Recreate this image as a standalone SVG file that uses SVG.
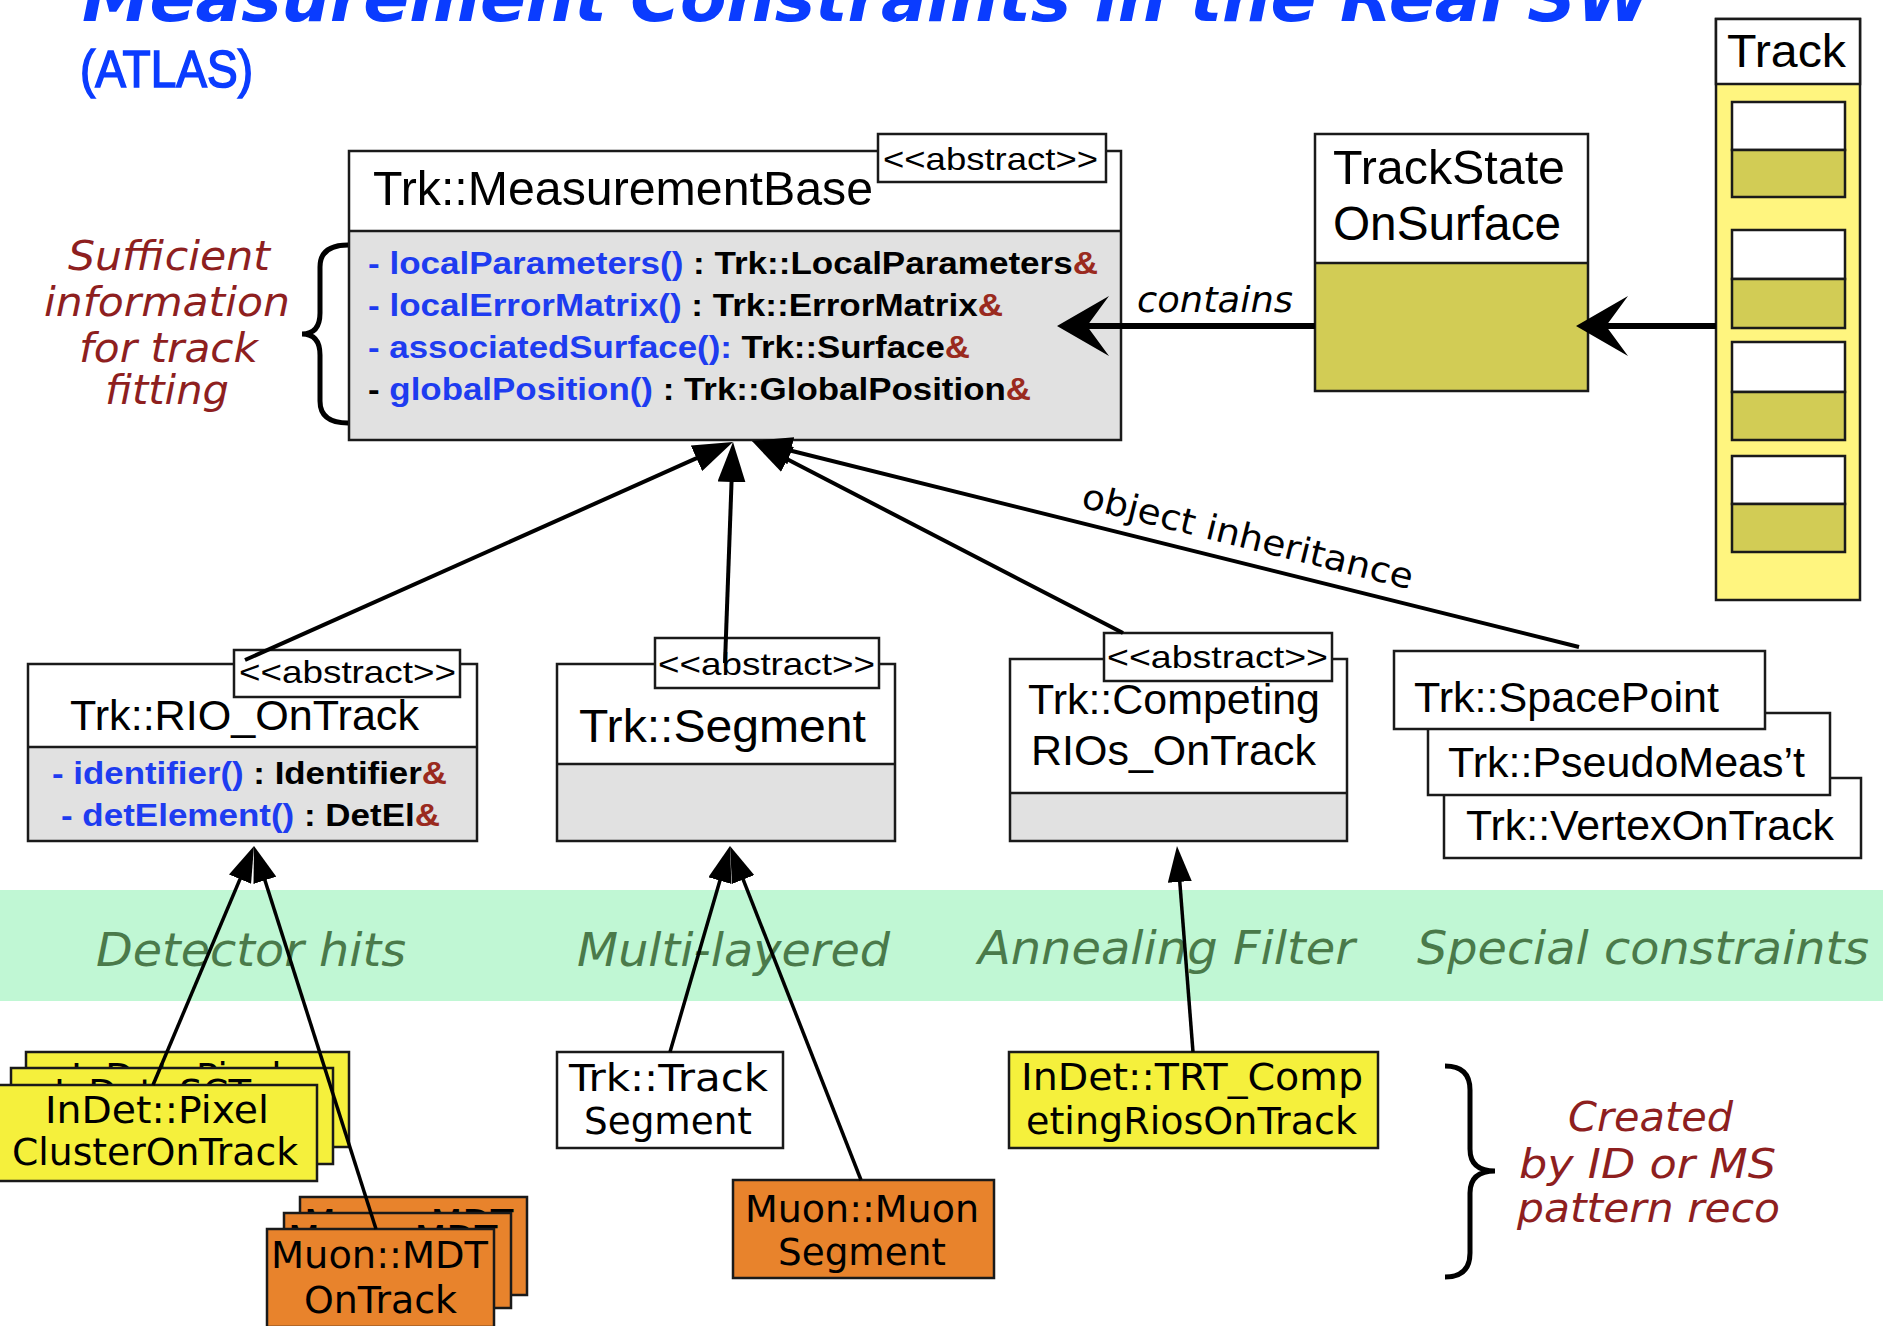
<svg xmlns="http://www.w3.org/2000/svg" width="1883" height="1326" viewBox="0 0 1883 1326">
  <defs>
    <!-- barbed arrowhead for the containment links -->
    <marker id="barb" markerUnits="userSpaceOnUse" viewBox="0 0 52 60" refX="22" refY="30" markerWidth="52" markerHeight="60" orient="auto">
      <path d="M0,0 L52,30 L0,60 L22,30 z" fill="#000"/>
    </marker>
    <!-- filled triangle for inheritance into the base class -->
    <marker id="tri" markerUnits="userSpaceOnUse" viewBox="0 0 40 28" refX="10" refY="14" markerWidth="40" markerHeight="28" orient="auto">
      <path d="M0,0 L40,14 L0,28 z" fill="#000"/>
    </marker>
    <!-- smaller triangle for the concrete classes -->
    <marker id="tri-s" markerUnits="userSpaceOnUse" viewBox="0 0 36 24" refX="10" refY="12" markerWidth="36" markerHeight="24" orient="auto">
      <path d="M0,0 L36,12 L0,24 z" fill="#000"/>
    </marker>
  </defs>
  <style>
    .box{stroke:#1a1a1a;stroke-width:2.5}
    .white{fill:#ffffff}
    .gray{fill:#e1e1e1}
    .olive{fill:#d2cc55}
    .pale{fill:#fff57f}
    .yellow{fill:#f5f03c}
    .orange{fill:#e8832c}
    .cls{font-family:"Liberation Sans",Arial,sans-serif;fill:#000}
    .stereo{font-family:"Liberation Sans",Arial,sans-serif;font-size:32px;fill:#000}
    .meth{font-family:"Liberation Sans",Arial,sans-serif;font-weight:bold;font-size:31px;fill:#000}
    .blue{fill:#1e3cf0}
    .amp{fill:#9a2a1e}
    .lbl{font-family:"DejaVu Sans",Verdana,sans-serif;font-size:37px;fill:#000}
    .band{font-family:"DejaVu Sans",Verdana,sans-serif;font-style:italic;font-size:47px;fill:#4a7a4a}
    .note{font-family:"DejaVu Sans",Verdana,sans-serif;font-style:italic;font-size:40px;fill:#8e1f1f}
    .brace{fill:none;stroke:#000;stroke-width:5}
    .conn{stroke:#000;fill:none}
    .thick{stroke-width:6}
    .mid{stroke-width:4}
    .thin{stroke-width:3.5}
  </style>

  <rect x="0" y="0" width="1883" height="1326" fill="#ffffff"/>

  <!-- heading -->
  <g id="title">
    <text x="82" y="21" font-family="'DejaVu Sans',Verdana,sans-serif" font-weight="bold" font-style="italic" font-size="66" fill="#0a3cff" textLength="1569" lengthAdjust="spacingAndGlyphs">Measurement Constraints in the Real SW</text>
    <text x="80" y="87" font-family="'Liberation Sans',Arial,sans-serif" font-size="52" fill="#0a3cff" stroke="#0a3cff" stroke-width="1.6" textLength="173" lengthAdjust="spacingAndGlyphs">(ATLAS)</text>
  </g>

  <!-- band of use cases -->
  <g id="band">
    <rect x="0" y="890" width="1883" height="111" fill="#c0f7d4"/>
    <text class="band" x="96" y="966" textLength="310" lengthAdjust="spacingAndGlyphs">Detector hits</text>
    <text class="band" x="577" y="966" textLength="313" lengthAdjust="spacingAndGlyphs">Multi-layered</text>
    <text class="band" x="978" y="964" textLength="377" lengthAdjust="spacingAndGlyphs">Annealing Filter</text>
    <text class="band" x="1417" y="964" textLength="452" lengthAdjust="spacingAndGlyphs">Special constraints</text>
  </g>

  <!-- base class -->
  <g id="measurement-base">
    <rect class="white" x="349" y="151" width="772" height="80"/>
    <rect class="gray" x="349" y="231" width="772" height="209"/>
    <rect class="box" x="349" y="151" width="772" height="289" fill="none"/>
    <line class="box" x1="349" y1="231" x2="1121" y2="231"/>
    <text class="cls" x="373" y="205" font-size="48" textLength="500" lengthAdjust="spacingAndGlyphs">Trk::MeasurementBase</text>
    <rect class="box white" x="878" y="134" width="228" height="48"/>
    <text class="stereo" x="883" y="170" textLength="215" lengthAdjust="spacingAndGlyphs">&lt;&lt;abstract&gt;&gt;</text>
    <text class="meth" x="368" y="274" textLength="730" lengthAdjust="spacingAndGlyphs"><tspan class="blue">- localParameters()</tspan> : Trk::LocalParameters<tspan class="amp">&amp;</tspan></text>
    <text class="meth" x="368" y="316" textLength="635" lengthAdjust="spacingAndGlyphs"><tspan class="blue">- localErrorMatrix()</tspan> : Trk::ErrorMatrix<tspan class="amp">&amp;</tspan></text>
    <text class="meth" x="368" y="358" textLength="602" lengthAdjust="spacingAndGlyphs"><tspan class="blue">- associatedSurface():</tspan> Trk::Surface<tspan class="amp">&amp;</tspan></text>
    <text class="meth" x="368" y="400" textLength="663" lengthAdjust="spacingAndGlyphs">- <tspan class="blue">globalPosition()</tspan> : Trk::GlobalPosition<tspan class="amp">&amp;</tspan></text>
  </g>

  <!-- note on the base class -->
  <g id="note-fitting">
    <path class="brace" d="M348,245 Q320,245 320,267 L320,313 Q320,334 302,334 Q320,334 320,355 L320,401 Q320,423 348,423"/>
    <text class="note" x="68" y="270" textLength="202" lengthAdjust="spacingAndGlyphs">Sufficient</text>
    <text class="note" x="44" y="316" textLength="246" lengthAdjust="spacingAndGlyphs">information</text>
    <text class="note" x="79" y="362" textLength="179" lengthAdjust="spacingAndGlyphs">for track</text>
    <text class="note" x="105" y="404" textLength="124" lengthAdjust="spacingAndGlyphs">fitting</text>
  </g>

  <!-- track state -->
  <g id="track-state-on-surface">
    <rect class="white" x="1315" y="134" width="273" height="129"/>
    <rect class="olive" x="1315" y="263" width="273" height="128"/>
    <rect class="box" x="1315" y="134" width="273" height="257" fill="none"/>
    <line class="box" x1="1315" y1="263" x2="1588" y2="263"/>
    <text class="cls" x="1333" y="184" font-size="48" textLength="232" lengthAdjust="spacingAndGlyphs">TrackState</text>
    <text class="cls" x="1333" y="240" font-size="48" textLength="228" lengthAdjust="spacingAndGlyphs">OnSurface</text>
  </g>

  <!-- track as a list of states -->
  <g id="track">
    <rect class="box pale" x="1716" y="19" width="144" height="581"/>
    <rect class="box white" x="1716" y="19" width="144" height="65"/>
    <text class="cls" x="1727" y="67" font-size="46" textLength="119" lengthAdjust="spacingAndGlyphs">Track</text>
    <rect class="box white" x="1732" y="102" width="113" height="48"/>
    <rect class="box olive" x="1732" y="150" width="113" height="47"/>
    <rect class="box white" x="1732" y="230" width="113" height="49"/>
    <rect class="box olive" x="1732" y="279" width="113" height="49"/>
    <rect class="box white" x="1732" y="342" width="113" height="50"/>
    <rect class="box olive" x="1732" y="392" width="113" height="48"/>
    <rect class="box white" x="1732" y="456" width="113" height="48"/>
    <rect class="box olive" x="1732" y="504" width="113" height="48"/>
  </g>

  <!-- second level classes -->
  <g id="rio-on-track">
    <rect class="white" x="28" y="664" width="449" height="83"/>
    <rect class="gray" x="28" y="747" width="449" height="94"/>
    <rect class="box" x="28" y="664" width="449" height="177" fill="none"/>
    <line class="box" x1="28" y1="747" x2="477" y2="747"/>
    <rect class="box white" x="234" y="650" width="226" height="47"/>
    <text class="stereo" x="239" y="683" textLength="217" lengthAdjust="spacingAndGlyphs">&lt;&lt;abstract&gt;&gt;</text>
    <text class="cls" x="70" y="730" font-size="42" textLength="349" lengthAdjust="spacingAndGlyphs">Trk::RIO_OnTrack</text>
    <text class="meth" x="52" y="784" textLength="395" lengthAdjust="spacingAndGlyphs"><tspan class="blue">- identifier()</tspan> : Identifier<tspan class="amp">&amp;</tspan></text>
    <text class="meth" x="61" y="826" textLength="379" lengthAdjust="spacingAndGlyphs"><tspan class="blue">- detElement()</tspan> : DetEl<tspan class="amp">&amp;</tspan></text>
  </g>

  <g id="segment">
    <rect class="white" x="557" y="664" width="338" height="100"/>
    <rect class="gray" x="557" y="764" width="338" height="77"/>
    <rect class="box" x="557" y="664" width="338" height="177" fill="none"/>
    <line class="box" x1="557" y1="764" x2="895" y2="764"/>
    <rect class="box white" x="655" y="638" width="224" height="50"/>
    <text class="stereo" x="658" y="675" textLength="217" lengthAdjust="spacingAndGlyphs">&lt;&lt;abstract&gt;&gt;</text>
    <text class="cls" x="579" y="742" font-size="47" textLength="287" lengthAdjust="spacingAndGlyphs">Trk::Segment</text>
  </g>

  <g id="competing-rios">
    <rect class="white" x="1010" y="659" width="337" height="134"/>
    <rect class="gray" x="1010" y="793" width="337" height="48"/>
    <rect class="box" x="1010" y="659" width="337" height="182" fill="none"/>
    <line class="box" x1="1010" y1="793" x2="1347" y2="793"/>
    <rect class="box white" x="1104" y="633" width="228" height="48"/>
    <text class="stereo" x="1107" y="668" textLength="221" lengthAdjust="spacingAndGlyphs">&lt;&lt;abstract&gt;&gt;</text>
    <text class="cls" x="1028" y="714" font-size="42" textLength="292" lengthAdjust="spacingAndGlyphs">Trk::Competing</text>
    <text class="cls" x="1031" y="765" font-size="42" textLength="285" lengthAdjust="spacingAndGlyphs">RIOs_OnTrack</text>
  </g>

  <g id="special-constraints">
    <rect class="box white" x="1444" y="778" width="417" height="80"/>
    <text class="cls" x="1466" y="840" font-size="42" textLength="368" lengthAdjust="spacingAndGlyphs">Trk::VertexOnTrack</text>
    <rect class="box white" x="1428" y="713" width="402" height="82"/>
    <text class="cls" x="1448" y="777" font-size="42" textLength="357" lengthAdjust="spacingAndGlyphs">Trk::PseudoMeas’t</text>
    <rect class="box white" x="1394" y="651" width="371" height="78"/>
    <text class="cls" x="1414" y="712" font-size="42" textLength="305" lengthAdjust="spacingAndGlyphs">Trk::SpacePoint</text>
  </g>

  <!-- concrete classes -->
  <g id="indet-clusters">
    <rect class="box yellow" x="26" y="1052" width="323" height="95"/>
    <text class="lbl" x="71" y="1090">InDet::Pixel</text>
    <rect class="box yellow" x="11" y="1068" width="322" height="96"/>
    <text class="lbl" x="54" y="1106">InDet::SCT</text>
    <rect class="box yellow" x="-3" y="1085" width="320" height="96"/>
    <text class="lbl" x="45" y="1123" textLength="224" lengthAdjust="spacingAndGlyphs">InDet::Pixel</text>
    <text class="lbl" x="12" y="1165" textLength="286" lengthAdjust="spacingAndGlyphs">ClusterOnTrack</text>
  </g>

  <g id="muon-mdt">
    <rect class="box orange" x="300" y="1197" width="227" height="98"/>
    <text class="lbl" x="304" y="1236">Muon::MDT</text>
    <rect class="box orange" x="284" y="1213" width="227" height="95"/>
    <text class="lbl" x="288" y="1252">Muon::MDT</text>
    <rect class="box orange" x="267" y="1229" width="227" height="98"/>
    <text class="lbl" x="271" y="1268" textLength="217" lengthAdjust="spacingAndGlyphs">Muon::MDT</text>
    <text class="lbl" x="304" y="1313" textLength="153" lengthAdjust="spacingAndGlyphs">OnTrack</text>
  </g>

  <g id="track-segment">
    <rect class="box white" x="557" y="1052" width="226" height="96"/>
    <text class="lbl" x="569" y="1091" textLength="199" lengthAdjust="spacingAndGlyphs">Trk::Track</text>
    <text class="lbl" x="584" y="1134" textLength="168" lengthAdjust="spacingAndGlyphs">Segment</text>
  </g>

  <g id="muon-segment">
    <rect class="box orange" x="733" y="1180" width="261" height="98"/>
    <text class="lbl" x="745" y="1222" textLength="234" lengthAdjust="spacingAndGlyphs">Muon::Muon</text>
    <text class="lbl" x="778" y="1265" textLength="168" lengthAdjust="spacingAndGlyphs">Segment</text>
  </g>

  <g id="trt-competing">
    <rect class="box yellow" x="1009" y="1052" width="369" height="96"/>
    <text class="lbl" x="1021" y="1090" textLength="342" lengthAdjust="spacingAndGlyphs">InDet::TRT_Comp</text>
    <text class="lbl" x="1026" y="1134" textLength="331" lengthAdjust="spacingAndGlyphs">etingRiosOnTrack</text>
  </g>

  <!-- note on the concrete classes -->
  <g id="note-created">
    <path class="brace" d="M1445,1066 Q1470,1066 1470,1090 L1470,1149 Q1470,1171 1495,1171 Q1470,1171 1470,1193 L1470,1253 Q1470,1277 1445,1277"/>
    <text class="note" x="1568" y="1131" font-size="38" textLength="165" lengthAdjust="spacingAndGlyphs">Created</text>
    <text class="note" x="1519" y="1178" font-size="38" textLength="257" lengthAdjust="spacingAndGlyphs">by ID or MS</text>
    <text class="note" x="1517" y="1222" font-size="38" textLength="263" lengthAdjust="spacingAndGlyphs">pattern reco</text>
  </g>

  <!-- links -->
  <g id="connectors">
    <line class="conn thick" x1="1716" y1="326" x2="1606" y2="326" marker-end="url(#barb)"/>
    <line class="conn thick" x1="1315" y1="326" x2="1087" y2="326" marker-end="url(#barb)"/>
    <text x="1137" y="312" font-family="'DejaVu Sans',Verdana,sans-serif" font-style="italic" font-size="36" fill="#000" textLength="156" lengthAdjust="spacingAndGlyphs">contains</text>

    <line class="conn mid" x1="245" y1="660" x2="705.6" y2="454.2" marker-end="url(#tri)"/>
    <line class="conn mid" x1="725" y1="663" x2="731.9" y2="472" marker-end="url(#tri)"/>
    <line class="conn mid" x1="1123" y1="633" x2="778.6" y2="454.8" marker-end="url(#tri)"/>
    <line class="conn mid" x1="1579" y1="647" x2="781.1" y2="448.3" marker-end="url(#tri)"/>
    <text transform="translate(1080,507) rotate(14)" font-family="'DejaVu Sans',Verdana,sans-serif" font-size="35" fill="#000" textLength="340" lengthAdjust="spacingAndGlyphs">object inheritance</text>

    <line class="conn thin" x1="153" y1="1085" x2="243.9" y2="869.9" marker-end="url(#tri-s)"/>
    <line class="conn thin" x1="376" y1="1229" x2="261.9" y2="870.8" marker-end="url(#tri-s)"/>
    <line class="conn thin" x1="670" y1="1052" x2="722.7" y2="871" marker-end="url(#tri-s)"/>
    <line class="conn thin" x1="861" y1="1180" x2="739.5" y2="870.2" marker-end="url(#tri-s)"/>
    <line class="conn thin" x1="1193" y1="1052" x2="1179" y2="871.9" marker-end="url(#tri-s)"/>
  </g>
</svg>
